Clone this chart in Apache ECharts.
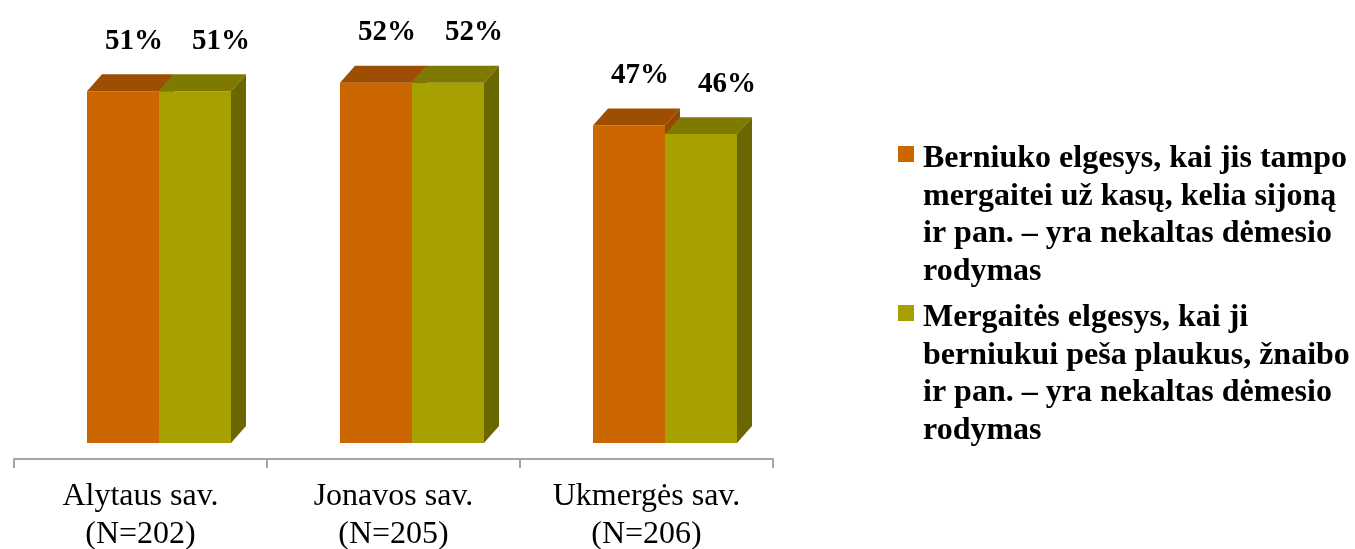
<!DOCTYPE html>
<html>
<head>
<meta charset="utf-8">
<script src="https://cdn.jsdelivr.net/npm/echarts@6/dist/echarts.min.js"></script>
<style>
html,body{margin:0;padding:0;background:#fff;}
#chart{width:1355px;height:549px;}
</style>
</head>
<body>
<div id="chart"></div>
<script>
const categories = ['Alytaus sav.\n(N=202)', 'Jonavos sav.\n(N=205)', 'Ukmergės sav.\n(N=206)'];
const seriesNames = [
  'Berniuko elgesys, kai jis tampo\nmergaitei už kasų, kelia sijoną\nir pan. – yra nekaltas dėmesio\nrodymas',
  'Mergaitės elgesys, kai ji\nberniukui peša plaukus, žnaibo\nir pan. – yra nekaltas dėmesio\nrodymas'
];
const boysValues = [51, 52, 47];
const girlsValues = [51, 52, 46];

const Y_MIN = 10, Y_MAX = 60;
const palettes = [
  { front: '#CC6600', top: '#9E4E00', side: '#944800' },
  { front: '#A6A000', top: '#7E7A00', side: '#6A6600' }
];

function makeRender(s) {
  return function (params, api) {
    const i = api.value(0), v = api.value(1);
    const base = api.coord([i, Y_MIN]);
    const top = api.coord([i, v]);
    const band = api.size([1, 0])[0];
    const bw = band * 0.2846;
    const dx = band * 0.0593;
    const dy = dx * 1.13;
    const x0 = base[0] - band * 0.2115 + s * bw;
    const x1 = x0 + bw;
    const yt = top[1], yb = base[1];
    const p = palettes[s];
    return {
      type: 'group',
      children: [
        { type: 'rect', shape: { x: x0, y: yt, width: bw, height: yb - yt }, style: { fill: p.front } },
        { type: 'polygon', shape: { points: [[x0, yt], [x1, yt], [x1 + dx, yt - dy], [x0 + dx, yt - dy]] }, style: { fill: p.top } },
        { type: 'polygon', shape: { points: [[x1, yt], [x1 + dx, yt - dy], [x1 + dx, yb - dy], [x1, yb]] }, style: { fill: p.side } },
        { type: 'text', style: { text: v + '%', x: x0 + bw / 2 + 11 + s * 15, y: yt - 50, align: 'center', verticalAlign: 'middle',
            font: 'bold 29px "Liberation Serif"', fill: '#000' } }
      ]
    };
  };
}

// legend drawn as graphic items (square marker aligned with first text line)
const legendTops = [140, 299];
const legendGraphics = [];
seriesNames.forEach((name, k) => {
  legendGraphics.push({ type: 'rect', left: 898, top: legendTops[k] + 6, shape: { width: 16, height: 16 },
    style: { fill: palettes[k].front } });
  legendGraphics.push({ type: 'text', left: 923, top: legendTops[k],
    style: { text: name, font: 'bold 32px "Liberation Serif"', lineHeight: 37.5, fill: '#000' } });
});

const chart = echarts.init(document.getElementById('chart'), null, { renderer: 'canvas' });
chart.setOption({
  animation: false,
  color: [palettes[0].front, palettes[1].front],
  grid: { left: 14, right: 582, top: 14, bottom: 106, containLabel: false, outerBoundsMode: 'none' },
  graphic: legendGraphics,
  xAxis: {
    type: 'category', data: categories, offset: 16,
    axisLine: { lineStyle: { color: '#A6A6A6', width: 2 } },
    axisTick: { show: true, length: 9, lineStyle: { color: '#A6A6A6', width: 2 } },
    axisLabel: { fontFamily: 'Liberation Serif', fontSize: 32, lineHeight: 38, color: '#000', margin: 19, interval: 0 }
  },
  yAxis: { type: 'value', min: Y_MIN, max: Y_MAX, show: false, splitLine: { show: false } },
  series: [
    { name: seriesNames[0], type: 'custom', renderItem: makeRender(0), encode: { x: 0, y: 1 },
      data: boysValues.map((v, i) => [i, v]) },
    { name: seriesNames[1], type: 'custom', renderItem: makeRender(1), encode: { x: 0, y: 1 },
      data: girlsValues.map((v, i) => [i, v]) }
  ]
});
</script>
</body>
</html>
